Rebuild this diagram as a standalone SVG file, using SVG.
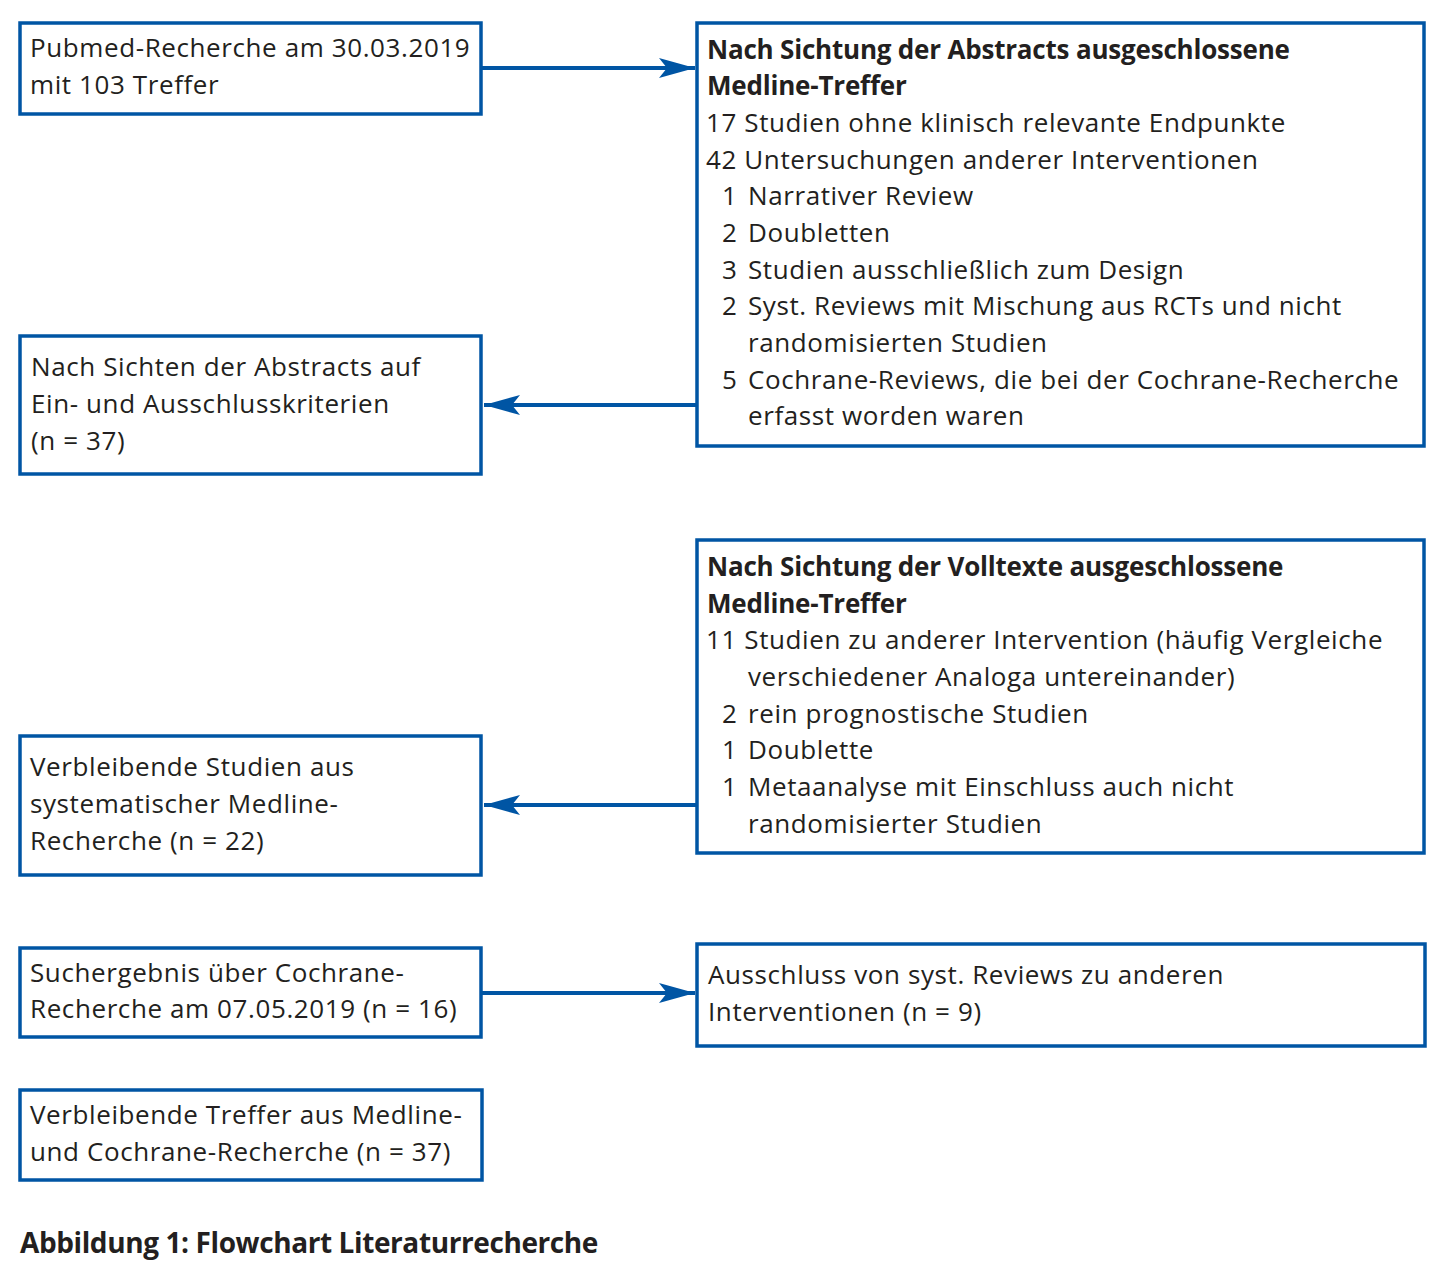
<svg xmlns="http://www.w3.org/2000/svg" width="1443" height="1279" viewBox="0 0 1443 1279">
<defs>
<style>
.box{fill:#fff;stroke:#0055a4;stroke-width:3.5}
.t{font-family:"Open Sans","Noto Sans",sans-serif;font-size:26px;fill:#231f20;letter-spacing:0.6px}
.b{font-weight:bold;letter-spacing:-0.2px}
.cap{font-family:"Open Sans","Noto Sans",sans-serif;font-size:28px;font-weight:bold;fill:#231f20;letter-spacing:-0.4px}
.ln{stroke:#0055a4;stroke-width:4;fill:none}
</style>
<marker id="ah" viewBox="0 0 36 20" refX="36" refY="10" markerWidth="36" markerHeight="20" markerUnits="userSpaceOnUse" orient="auto">
<path d="M0,0 L36,10 L0,20 L8,10 Z" fill="#0055a4"/>
</marker>
</defs>
<rect width="1443" height="1279" fill="#fff"/>
<g id="connectors">
<line class="ln" x1="481" y1="68" x2="695" y2="68" marker-end="url(#ah)"/>
<line class="ln" x1="697" y1="405" x2="484" y2="405" marker-end="url(#ah)"/>
<line class="ln" x1="697" y1="805" x2="484" y2="805" marker-end="url(#ah)"/>
<line class="ln" x1="481" y1="993" x2="695" y2="993" marker-end="url(#ah)"/>
</g>
<g id="n1">
<rect class="box" x="20" y="23" width="461" height="91"/>
<text class="t" x="30" y="57">Pubmed-Recherche am 30.03.2019</text>
<text class="t" x="30" y="94">mit 103 Treffer</text>
</g>
<g id="n2">
<rect class="box" x="697" y="23" width="727" height="423"/>
<text class="t b" x="707" y="59">Nach Sichtung der Abstracts ausgeschlossene</text>
<text class="t b" x="707" y="95">Medline-Treffer</text>
<text class="t" x="706" y="132">17 Studien ohne klinisch relevante Endpunkte</text>
<text class="t" x="706" y="169">42 Untersuchungen anderer Interventionen</text>
<text class="t" x="722" y="205">1</text><text class="t" x="748" y="205">Narrativer Review</text>
<text class="t" x="722" y="242">2</text><text class="t" x="748" y="242">Doubletten</text>
<text class="t" x="722" y="279">3</text><text class="t" x="748" y="279">Studien ausschließlich zum Design</text>
<text class="t" x="722" y="315">2</text><text class="t" x="748" y="315">Syst. Reviews mit Mischung aus RCTs und nicht</text>
<text class="t" x="748" y="352">randomisierten Studien</text>
<text class="t" x="722" y="389">5</text><text class="t" x="748" y="389">Cochrane-Reviews, die bei der Cochrane-Recherche</text>
<text class="t" x="748" y="425">erfasst worden waren</text>
</g>
<g id="n3">
<rect class="box" x="20" y="336" width="461" height="138"/>
<text class="t" x="31" y="376">Nach Sichten der Abstracts auf</text>
<text class="t" x="31" y="413">Ein- und Ausschlusskriterien</text>
<text class="t" x="31" y="450">(n = 37)</text>
</g>
<g id="n4">
<rect class="box" x="697" y="540" width="727" height="313"/>
<text class="t b" x="707" y="576">Nach Sichtung der Volltexte ausgeschlossene</text>
<text class="t b" x="707" y="613">Medline-Treffer</text>
<text class="t" x="706" y="649">11 Studien zu anderer Intervention (häufig Vergleiche</text>
<text class="t" x="748" y="686">verschiedener Analoga untereinander)</text>
<text class="t" x="722" y="723">2</text><text class="t" x="748" y="723">rein prognostische Studien</text>
<text class="t" x="722" y="759">1</text><text class="t" x="748" y="759">Doublette</text>
<text class="t" x="722" y="796">1</text><text class="t" x="748" y="796">Metaanalyse mit Einschluss auch nicht</text>
<text class="t" x="748" y="833">randomisierter Studien</text>
</g>
<g id="n5">
<rect class="box" x="20" y="736" width="461" height="139"/>
<text class="t" x="30" y="776">Verbleibende Studien aus</text>
<text class="t" x="30" y="813">systematischer Medline-</text>
<text class="t" x="30" y="850">Recherche (n = 22)</text>
</g>
<g id="n6">
<rect class="box" x="20" y="948" width="461" height="89"/>
<text class="t" x="30" y="982">Suchergebnis über Cochrane-</text>
<text class="t" x="30" y="1018">Recherche am 07.05.2019 (n = 16)</text>
</g>
<g id="n7">
<rect class="box" x="697" y="944" width="728" height="102"/>
<text class="t" x="708" y="984">Ausschluss von syst. Reviews zu anderen</text>
<text class="t" x="708" y="1021">Interventionen (n = 9)</text>
</g>
<g id="n8">
<rect class="box" x="20" y="1090" width="462" height="90"/>
<text class="t" x="30" y="1124">Verbleibende Treffer aus Medline-</text>
<text class="t" x="30" y="1161">und Cochrane-Recherche (n = 37)</text>
</g>
<text class="cap" x="20" y="1253">Abbildung 1: Flowchart Literaturrecherche</text>
</svg>
